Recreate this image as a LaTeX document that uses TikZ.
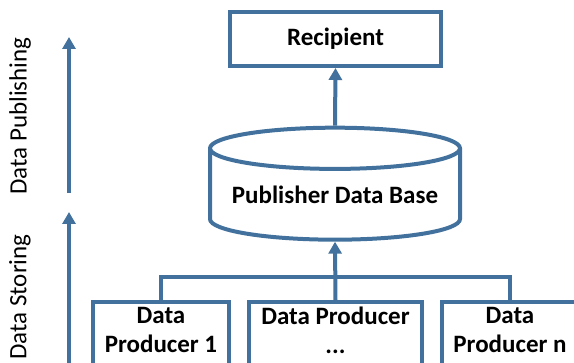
\documentclass[tikz,border=0pt]{standalone}
\usepackage{fontspec}
\setmainfont{Carlito}
\usepackage{xcolor}
\usetikzlibrary{arrows.meta,shapes.geometric}
\definecolor{boxblue}{RGB}{65,113,156}

\begin{document}
\begin{tikzpicture}[x=1pt,y=1pt]
	\tikzstyle{every node}=[font=\fontsize{25}{29}\selectfont\bfseries]
	\tikzstyle{frame}=[draw=boxblue, line width=4pt]
	\tikzstyle{wire}=[draw=boxblue, line width=4pt]
	\tikzstyle{arr}=[wire, -{Triangle[width=13pt,length=12pt]}]
	\tikzstyle{producer}=[frame, align=center, anchor=north, inner xsep=0pt, inner ysep=5pt, text depth=60pt]
	\tikzstyle{side}=[rotate=90, font=\fontsize{25}{29}\selectfont]
	\useasboundingbox (0,0) rectangle (574,363);
	\clip (0,0) rectangle (574,363);
	% boxes
	\node [frame, minimum width=211pt, minimum height=54pt, inner sep=0pt] (rec) at (335.5,324) {Recipient};
	\node [frame, cylinder, shape border rotate=90, aspect=0.2, minimum width=250pt, minimum height=112pt, inner sep=0pt] (db) at (335,168) {Publisher Data Base};
	\node [producer, minimum width=136pt] (prod1) at (161,63) {Data\\Producer 1};
	\node [producer, minimum width=173pt] (prod2) at (335.5,63) {Data Producer\\...};
	\node [producer, minimum width=136pt] (prodn) at (510,63) {Data\\Producer n};
	% side labels
	\node [side] (publab) at (20,247) {Data Publishing};
	\node [side] (storlab) at (20,66) {Data Storing};
	\coordinate (pubfrom) at (69,170);
	\coordinate (pubto) at (69,326);
	\coordinate (storfrom) at (69,-5);
	\coordinate (storto) at (69,151);
	\coordinate (bus) at (335.5,86);
	% connectors
	\draw [arr] (pubfrom) -- (pubto);
	\draw [arr] (storfrom) -- (storto);
	\draw [arr] (db.north) -- (rec.south);
	\draw [wire] (prod1.north) |- (bus) -| (prodn.north);
	\draw [arr] (prod2.north) -- (db.south);
\end{tikzpicture}
\end{document}
